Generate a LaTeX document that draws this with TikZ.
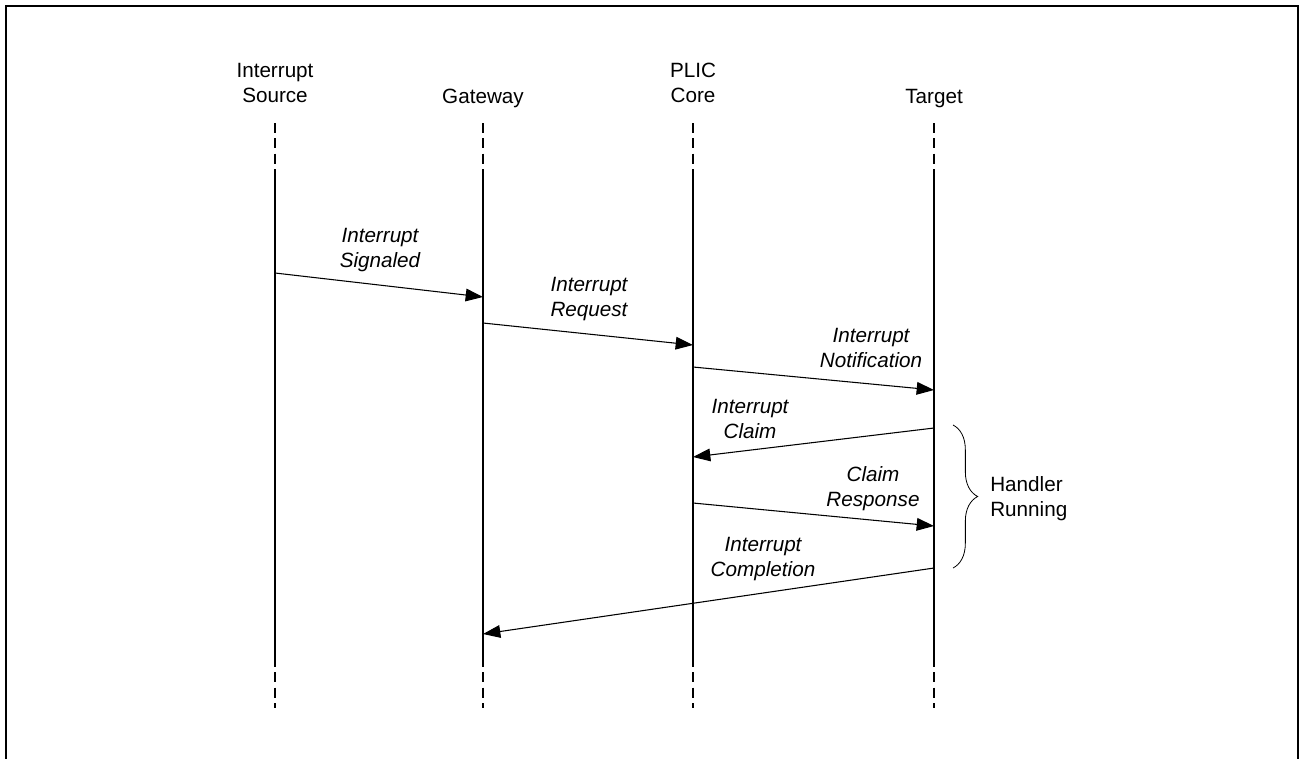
\documentclass[tikz,border=0pt]{standalone}
\usepackage{fontspec}
\setmainfont{Liberation Sans}
\usetikzlibrary{arrows.meta,decorations.pathreplacing}

\tikzset{
  lifeline/.style={line width=2.2pt},
  lifetail/.style={line width=2.2pt, dash pattern=on 7.5pt off 4pt},
  msg/.style={line width=0.8pt, -{Triangle[length=13pt,width=9.5pt]}},
  msglabel/.style={align=center, font=\itshape},
  head/.style={align=center},
}

\begin{document}
\begin{tikzpicture}[x=0.75pt, y=-0.75pt,
  node font=\fontsize{15.5}{18.75}\selectfont, every node/.style={inner sep=0pt}]
  \useasboundingbox (0,0) rectangle (1301,758);
  \clip (0,0) rectangle (1301,758);
  \draw[line width=1.6pt] (6,6) rectangle (1298,790);

  % participants
  \node[head] (src) at (275,83) {Interrupt\\Source};
  \node[head, anchor=base] (gw) at (483,103) {Gateway};
  \node[head] (core) at (693,83) {PLIC\\Core};
  \node[head, anchor=base] (tgt) at (934,103) {Target};

  % lifelines
  \foreach \n/\x in {src/275, gw/483, core/693, tgt/934} {
    \coordinate (\n-a) at (\x,123);
    \coordinate (\n-b) at (\x,172);
    \coordinate (\n-c) at (\x,657);
    \coordinate (\n-d) at (\x,708);
    \draw[lifetail] (\n-a) -- (\n-b);
    \draw[lifeline] (\n-b) -- (\n-c);
    \draw[lifetail] (\n-c) -- (\n-d);
  }

  % message ends
  \coordinate (sig-s) at (275,273);  \coordinate (sig-e) at (483,297);
  \coordinate (req-s) at (483,323);  \coordinate (req-e) at (693,345);
  \coordinate (note-s) at (693,367); \coordinate (note-e) at (934,390);
  \coordinate (clm-s) at (934,428);  \coordinate (clm-e) at (693,457);
  \coordinate (rsp-s) at (693,503);  \coordinate (rsp-e) at (934,526);
  \coordinate (cpl-s) at (934,568);  \coordinate (cpl-e) at (483,634);

  \draw[msg] (sig-s) -- (sig-e);
  \draw[msg] (req-s) -- (req-e);
  \draw[msg] (note-s) -- (note-e);
  \draw[msg] (clm-s) -- (clm-e);
  \draw[msg] (rsp-s) -- (rsp-e);
  \draw[msg] (cpl-s) -- (cpl-e);

  \node[msglabel] (sig) at (380,250) {Interrupt\\Signaled};
  \node[msglabel] (req) at (589,299) {Interrupt\\Request};
  \node[msglabel] (note) at (871,348) {Interrupt\\Notification};
  \node[msglabel] (clm) at (750,419) {Interrupt\\Claim};
  \node[msglabel] (rsp) at (873,489) {Claim\\Response};
  \node[msglabel] (cpl) at (763,559) {Interrupt\\Completion};

  % handler span
  \coordinate (hdl-a) at (953,425);
  \coordinate (hdl-b) at (953,568);
  \draw[line width=0.6pt, decorate, decoration={brace, amplitude=18.5pt}] (hdl-a) -- (hdl-b);
  \node[align=left, anchor=west] (hdl) at (990,499) {Handler\\Running};
\end{tikzpicture}
\end{document}
